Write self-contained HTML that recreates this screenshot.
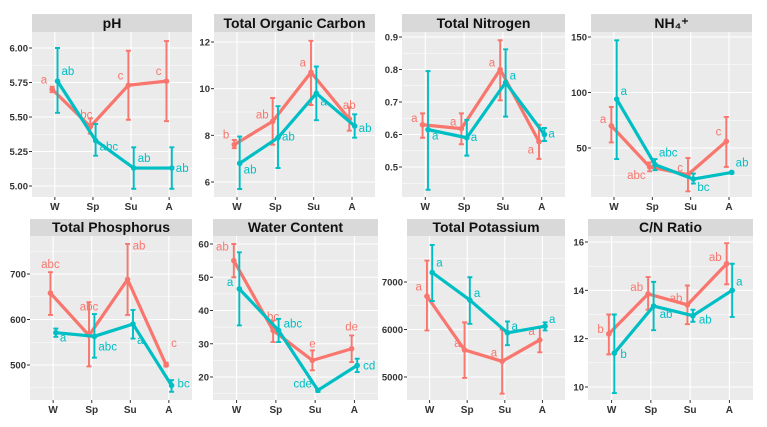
<!DOCTYPE html>
<html><head><meta charset="utf-8"><style>
html,body{margin:0;padding:0;background:#fff;}
svg{display:block;font-family:"Liberation Sans",Arial,sans-serif;}
</style></head><body>
<svg id="chart" width="767" height="427" viewBox="0 0 767 427"></svg>
<script>
const categories = ["W","Sp","Su","A"];
const titles = ["pH","Total Organic Carbon","Total Nitrogen","NH\u2084\u207A","Total Phosphorus","Water Content","Total Potassium","C/N Ratio"];
const tickLabels = [
 ["5.00","5.25","5.50","5.75","6.00"],["6","8","10","12"],["0.5","0.6","0.7","0.8","0.9"],["50","100","150"],
 ["500","600","700"],["20","30","40","50","60"],["5000","6000","7000"],["10","12","14","16"]];
const tickValues = [[5,5.25,5.5,5.75,6],[6,8,10,12],[.5,.6,.7,.8,.9],[50,100,150],[500,600,700],[20,30,40,50,60],[5000,6000,7000],[10,12,14,16]];
const redMean = [[5.70,5.43,5.73,5.76],[7.6,8.6,10.7,8.7],[.63,.618,.80,.578],[70,33,26,56],[658,565,688,500],[55,34,25,28.5],[6700,5570,5330,5780],[12.2,13.85,13.4,15.1]];
const redLo = [[5.68,5.38,5.48,5.47],[7.45,7.6,9.3,8.2],[.59,.57,.705,.525],[55,29,11,33],[610,497,610,497],[50,30.5,22,24.5],[5980,4980,4650,5520],[11.35,13.2,12.6,14.25]];
const redHi = [[5.72,5.49,5.98,6.05],[7.8,9.6,12.05,9.2],[.665,.665,.89,.63],[87,37,41,78],[704,638,766,505],[60,37,28,32.5],[7450,6150,6000,6050],[13.0,14.55,14.2,15.95]];
const cyanMean = [[5.76,5.33,5.13,5.13],[6.8,7.9,9.8,8.4],[.615,.59,.76,.60],[94,35,22,28],[571,563,590,455],[46.5,34,16,23.5],[7200,6620,5930,6070],[11.4,13.35,12.95,14.0]];
const cyanLo = [[5.53,5.22,4.98,4.98],[5.7,6.6,8.65,7.9],[.43,.535,.655,.58],[40,30,18,27],[562,516,558,441],[35.5,30.5,15.5,21.5],[6600,6120,5670,5980],[9.75,12.35,12.7,12.9]];
const cyanHi = [[6.0,5.45,5.28,5.28],[7.95,9.25,10.95,8.9],[.795,.645,.862,.62],[147,40,27,29],[580,612,621,467],[57.5,37.5,16.5,25.5],[7780,7100,6170,6150],[13.0,14.35,13.2,15.1]];
const redLabels = [["a","bc","c","c"],["b","ab","a","ab"],["a","a","a","a"],["a","abc","c","c"],["abc","abc","ab","c"],["ab","bc","e","de"],["a","a","a","a"],["b","ab","ab","ab"]];
const cyanLabels = [["ab","abc","ab","ab"],["ab","ab","a","ab"],["a","a","a","a"],["a","abc","bc","ab"],["a","abc","a","bc"],["a","abc","cde","cd"],["a","a","a","a"],["b","ab","ab","a"]];

const panelX = [[32,192],[214,375],[402,565],[591,752],[30,192],[213,378],[407,565],[588,753]];
const rowY = [{h:14,t:32,b:197},{h:219,t:236,b:400}];
const calib = [[5,186,6,48],[6,182,12,42],[.5,167,.9,37],[50,148,150,37],[500,365,700,274],[20,377,60,244],[5000,377,7000,282],[10,387,16,242]];
const redPos = [[["-5","-6","end"],["-4","-8","middle"],["-5","-6","end"],["-5","-6","end"]],
 [["-5","-6","end"],["-4","-3","end"],["-5","-6","end"],["0","-10","middle"]],
 [["-5","-3","end"],["-5","-3","end"],["-5","-3","end"],["-5","12","end"]],
 [["-5","-3","end"],["-4","12","end"],["-5","-3","end"],["-5","-6","end"]],
 [["0","-25","middle"],["0","-25","middle"],["5","-30","start"],["5","-18","start"]],
 [["-5","-10","end"],["0","-10","middle"],["0","-13","middle"],["0","-18","middle"]],
 [["-5","-6","end"],["-4","-3","end"],["-5","-5","end"],["-5","-5","end"]],
 [["-5","-1","end"],["-5","-3","end"],["-5","-3","end"],["-5","-3","end"]]];
const cyanPos = [[["4","-6","start"],["4","10","start"],["4","-6","start"],["4","4","start"]],
 [["4","10","start"],["4","3","start"],["4","12","start"],["4","6","start"]],
 [["4","10","start"],["4","3","start"],["4","-3","start"],["4","3","start"]],
 [["4","-4","start"],["4","-8","start"],["4","12","start"],["4","-6","start"]],
 [["4","9","start"],["4","14","start"],["4","20","start"],["6","2","start"]],
 [["-6","-3","end"],["5","-3","start"],["-6","-3","end"],["6","4","start"]],
 [["4","-6","start"],["4","-3","start"],["4","-3","start"],["4","-3","start"]],
 [["6","5","start"],["6","12","start"],["6","8","start"],["4","-5","start"]]];

const RED="#F8766D", CYAN="#00BFC4";
const svg=document.getElementById('chart');
const NS="http://www.w3.org/2000/svg";
function mk(tag,attrs,parent,text){const e=document.createElementNS(NS,tag);for(const k in attrs)e.setAttribute(k,attrs[k]);if(text!==undefined)e.textContent=text;parent.appendChild(e);return e;}

for(let p=0;p<8;p++){
  const [x0,x1]=panelX[p]; const r=rowY[p<4?0:1];
  const [v0,py0,v1,py1]=calib[p];
  const yS=v=>py0+(v-v0)*(py1-py0)/(v1-v0);
  const unit=(x1-x0)/4.2;
  const xS=i=>x0+(i+0.6)*unit;
  const g=mk('g',{},svg);
  
  
  const hd=mk('rect',{x:x0,y:r.h,width:x1-x0,height:r.t-r.h,fill:'#d9d9d9'},g);
  
  
  const tt=mk('text',{x:(x0+x1)/2,y:r.t-4,'text-anchor':'middle','font-size':14,'font-weight':'bold',fill:'#111'},g,titles[p]);
  
  
  const bg=mk('rect',{x:x0,y:r.t,width:x1-x0,height:r.b-r.t,fill:'#ebebeb'},g);
  
  
  const tv=tickValues[p]; const step=tv[1]-tv[0];
  for(let k=-1;k<tv.length;k++){const v=tv[0]+(k+0.5)*step;const y=yS(v);if(y>r.t&&y<r.b)mk('line',{x1:x0,x2:x1,y1:y,y2:y,stroke:'#fff','stroke-width':0.5},g);}
  tv.forEach((v,k)=>{const y=yS(v);
    const gl=mk('line',{x1:x0,x2:x1,y1:y,y2:y,stroke:'#fff','stroke-width':1.1},g);
    
    
    mk('line',{x1:x0-3,x2:x0,y1:y,y2:y,stroke:'#333','stroke-width':1},g);
    const tl=mk('text',{x:x0-4,y:y+3.5,'text-anchor':'end','font-size':9.5,'font-weight':'bold',fill:'#333'},g,tickLabels[p][k]);
    
    
  });
  categories.forEach((c,i)=>{const x=xS(i);
    mk('line',{x1:x,x2:x,y1:r.t,y2:r.b,stroke:'#fff','stroke-width':1.1},g);
    mk('line',{x1:x,x2:x,y1:r.b,y2:r.b+3,stroke:'#333','stroke-width':1},g);
    const xl=mk('text',{x:x,y:r.b+13,'text-anchor':'middle','font-size':10,'font-weight':'bold',fill:'#333'},g,c);
    
    
  });
  const series=[[redMean,redLo,redHi,RED,-0.07,redLabels,redPos,'red'],[cyanMean,cyanLo,cyanHi,CYAN,0.07,cyanLabels,cyanPos,'cyan']];
  series.forEach(([m,lo,hi,col,dodge,labs,pos,nm])=>{
    const xs=i=>xS(i+dodge);
    const pts=m[p].map((v,i)=>xs(i)+','+yS(v)).join(' ');
    const ln=mk('polyline',{points:pts,fill:'none',stroke:col,'stroke-width':3.2,'stroke-linejoin':'round'},g);
    
    
    m[p].forEach((v,i)=>{const x=xs(i);
      const eb=mk('path',{d:`M${x},${yS(lo[p][i])}V${yS(hi[p][i])}M${x-2.5},${yS(lo[p][i])}H${x+2.5}M${x-2.5},${yS(hi[p][i])}H${x+2.5}`,stroke:col,'stroke-width':1.9,fill:'none'},g);
      
      
      const pt=mk('circle',{cx:x,cy:yS(v),r:2.8,fill:col},g);
      
      
      const ps=pos[p][i];
      const lb=mk('text',{x:x+(+ps[0]),y:yS(v)+(+ps[1]),'text-anchor':ps[2],'font-size':11.5,fill:col},g,labs[p][i]);
      
      
    });
  });
}
</script>
</body></html>
